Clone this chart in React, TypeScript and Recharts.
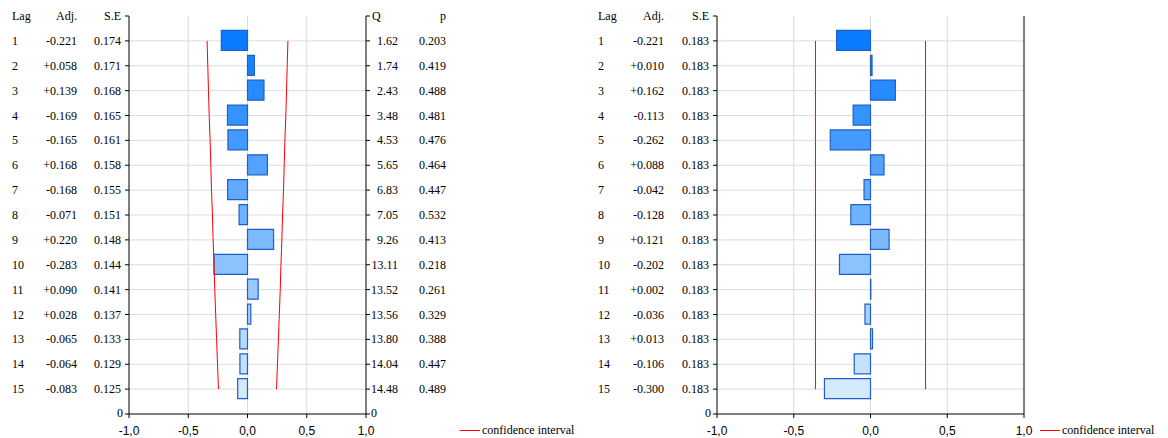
import React from "react";
import { ComposedChart, Bar, Line, XAxis, YAxis, CartesianGrid, Cell } from "recharts";

const lags = [1, 2, 3, 4, 5, 6, 7, 8, 9, 10, 11, 12, 13, 14, 15];
const adjL = [-0.221, 0.058, 0.139, -0.169, -0.165, 0.168, -0.168, -0.071, 0.22, -0.283, 0.09, 0.028, -0.065, -0.064, -0.083];
const seL = [0.174, 0.171, 0.168, 0.165, 0.161, 0.158, 0.155, 0.151, 0.148, 0.144, 0.141, 0.137, 0.133, 0.129, 0.125];
const qL = ["1.62", "1.74", "2.43", "3.48", "4.53", "5.65", "6.83", "7.05", "9.26", "13.11", "13.52", "13.56", "13.80", "14.04", "14.48"];
const pL = ["0.203", "0.419", "0.488", "0.481", "0.476", "0.464", "0.447", "0.532", "0.413", "0.218", "0.261", "0.329", "0.388", "0.447", "0.489"];
const adjR = [-0.221, 0.01, 0.162, -0.113, -0.262, 0.088, -0.042, -0.128, 0.121, -0.202, 0.002, -0.036, 0.013, -0.106, -0.3];
const seR = [0.183, 0.183, 0.183, 0.183, 0.183, 0.183, 0.183, 0.183, 0.183, 0.183, 0.183, 0.183, 0.183, 0.183, 0.183];
const xTicks = [-1, -0.5, 0, 0.5, 1];

const FONT = "Liberation Serif";
const fmtAdj = (v: number) => (v >= 0 ? "+" : "") + v.toFixed(3);
const fmtX = (v: number) => v.toFixed(1).replace(".", ",");

function rowColor(i: number) {
  const a = [10, 123, 255], b = [212, 233, 252];
  const t = i / 14;
  const c = a.map((v, k) => Math.round(v + (b[k] - v) * t));
  return `rgb(${c[0]},${c[1]},${c[2]})`;
}

function build(adj: number[], se: number[]) {
  return lags.map((lag, i) => ({
    pos: lag,
    adj: adj[i],
    lo: -1.96 * se[i],
    hi: 1.96 * se[i],
  }));
}

const yTicks = [0, 1, 2, 3, 4, 5, 6, 7, 8, 9, 10, 11, 12, 13, 14, 15, 16];

function LeftTick(props: any, adj: number[], se: number[], xs: { lag: number; adj: number; se: number }) {
  const { y, payload } = props;
  const v = payload.value;
  const st = { fontFamily: FONT, fontSize: 12, fill: "#000" } as any;
  if (v === 0)
    return (
      <g>
        <text x={xs.lag} y={y + 4} {...st}>Lag</text>
        <text x={xs.adj} y={y + 4} textAnchor="end" {...st}>Adj.</text>
        <text x={xs.se} y={y + 4} textAnchor="end" {...st}>S.E</text>
      </g>
    );
  if (v === 16)
    return <text x={xs.se + 2} y={y + 3} textAnchor="end" {...st}>0</text>;
  const i = v - 1;
  return (
    <g>
      <text x={xs.lag} y={y + 4} {...st}>{lags[i]}</text>
      <text x={xs.adj} y={y + 4} textAnchor="end" {...st}>{fmtAdj(adj[i])}</text>
      <text x={xs.se} y={y + 4} textAnchor="end" {...st}>{se[i].toFixed(3)}</text>
    </g>
  );
}

function RightTick(props: any) {
  const { y, payload } = props;
  const v = payload.value;
  const st = { fontFamily: FONT, fontSize: 12, fill: "#000" } as any;
  if (v === 0)
    return (
      <g>
        <text x={372} y={y + 4} {...st}>Q</text>
        <text x={440} y={y + 4} {...st}>p</text>
      </g>
    );
  if (v === 16) return <text x={371} y={y + 3} {...st}>0</text>;
  const i = v - 1;
  return (
    <g>
      <text x={398} y={y + 4} textAnchor="end" {...st}>{qL[i]}</text>
      <text x={446} y={y + 4} textAnchor="end" {...st}>{pL[i]}</text>
    </g>
  );
}

function XTick(props: any) {
  const { x, y, payload } = props;
  return (
    <text x={x} y={y + 15} textAnchor="middle" fontFamily="Liberation Sans" fontSize={12} fill="#000">
      {fmtX(payload.value)}
    </text>
  );
}

function Panel(p: { left: number; width: number; plotL: number; plotR: number; adj: number[]; se: number[]; xs: any; rightCols: boolean }) {
  const data = build(p.adj, p.se);
  return (
    <div style={{ position: "absolute", left: p.left, top: 0 }}>
      <ComposedChart
        width={p.width}
        height={438}
        layout="vertical"
        data={data}
        margin={{ top: 16, bottom: 0, left: p.plotL - 1, right: p.width - p.plotR - 1 }}
      >
        <CartesianGrid xAxisId="b" yAxisId="l" stroke="#dcdcdc" horizontalValues={yTicks.slice(1, 16)} verticalValues={[-0.5, 0, 0.5]} />
        <XAxis
          type="number"
          xAxisId="b"
          domain={[-1, 1]}
          ticks={xTicks}
          height={24}
          stroke="#000"
          tickSize={4}
          tick={XTick}
        />
        <XAxis type="number" xAxisId="t" orientation="top" domain={[-1, 1]} ticks={xTicks} height={0} tick={false} tickLine={false} stroke="#000" />
        <YAxis
          type="number"
          yAxisId="l"
          dataKey="pos"
          domain={[0, 16]}
          ticks={yTicks}
          width={1}
          stroke="#000"
          tickSize={4}
          interval={0}
          tick={(tp: any) => LeftTick(tp, p.adj, p.se, p.xs)}
        />
        <YAxis
          type="number"
          yAxisId="r"
          dataKey="pos"
          orientation="right"
          domain={[0, 16]}
          ticks={yTicks}
          width={1}
          stroke="#000"
          tickSize={4}
          interval={0}
          tick={p.rightCols ? (tp: any) => RightTick(tp) : false}
        />
        <Bar dataKey="adj" xAxisId="b" yAxisId="l" barSize={20} stroke="#1f5fc8" strokeWidth={1.2} isAnimationActive={false}>
          {data.map((d, i) => (
            <Cell key={i} fill={rowColor(i)} />
          ))}
        </Bar>
        <Line dataKey="lo" xAxisId="b" yAxisId="l" stroke="#ff0000" dot={false} isAnimationActive={false} />
        <Line dataKey="hi" xAxisId="b" yAxisId="l" stroke="#ff0000" dot={false} isAnimationActive={false} />
      </ComposedChart>
    </div>
  );
}

function LegendItem({ left }: { left: number }) {
  return (
    <div style={{ position: "absolute", left, top: 423, display: "flex", alignItems: "center", fontFamily: FONT, fontSize: 12 }}>
      <div style={{ width: 20, height: 1, background: "#ff0000", marginRight: 2 }} />
      <span>confidence interval</span>
    </div>
  );
}

export default function App() {
  return (
    <div style={{ position: "fixed", left: 0, top: 0, width: 1168, height: 438, background: "#fff" }}>
      <Panel left={0} width={460} plotL={129} plotR={366} adj={adjL} se={seL} xs={{ lag: 12, adj: 77, se: 121 }} rightCols={true} />
      <Panel left={590} width={450} plotL={717 - 590} plotR={1024 - 590} adj={adjR} se={seR} xs={{ lag: 8, adj: 74, se: 119 }} rightCols={false} />
      <LegendItem left={460} />
      <LegendItem left={1040} />
    </div>
  );
}
